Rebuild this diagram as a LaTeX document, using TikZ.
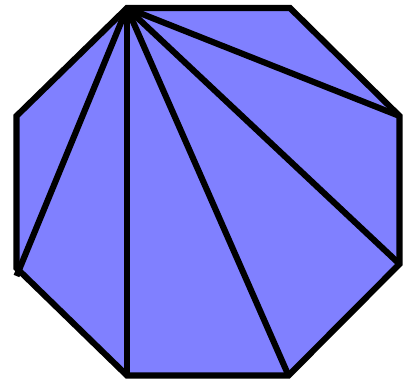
\documentclass[tikz,border=0pt]{standalone}
\definecolor{octfill}{RGB}{128,128,255}
\tikzset{
  outline/.style={line width=4.6pt, line join=miter, draw=black},
  diag/.style={line width=4.6pt, draw=black, line cap=butt}
}
\begin{document}
\begin{tikzpicture}[x=0.75pt,y=-0.75pt]
\useasboundingbox (0,0) rectangle (413,379);
\coordinate (A) at (127,8);
\coordinate (B) at (290,8);
\coordinate (C) at (399.5,116);
\coordinate (D) at (399.5,264);
\coordinate (E) at (288.5,375.5);
\coordinate (F) at (127,375.5);
\coordinate (G) at (16.5,268);
\coordinate (H) at (16.5,116);
\coordinate (Gx) at (16.5,276);
\fill[octfill] (A) -- (B) -- (C) -- (D) -- (E) -- (F) -- (G) -- (H) -- cycle;
\draw[outline] (A) -- (B) -- (C) -- (D) -- (E) -- (F) -- (G) -- (H) -- cycle;
\draw[diag] (A) -- (C);
\draw[diag] (A) -- (D);
\draw[diag] (A) -- (E);
\draw[diag] (A) -- (F);
\draw[diag] (A) -- (Gx);
\end{tikzpicture}
\end{document}
